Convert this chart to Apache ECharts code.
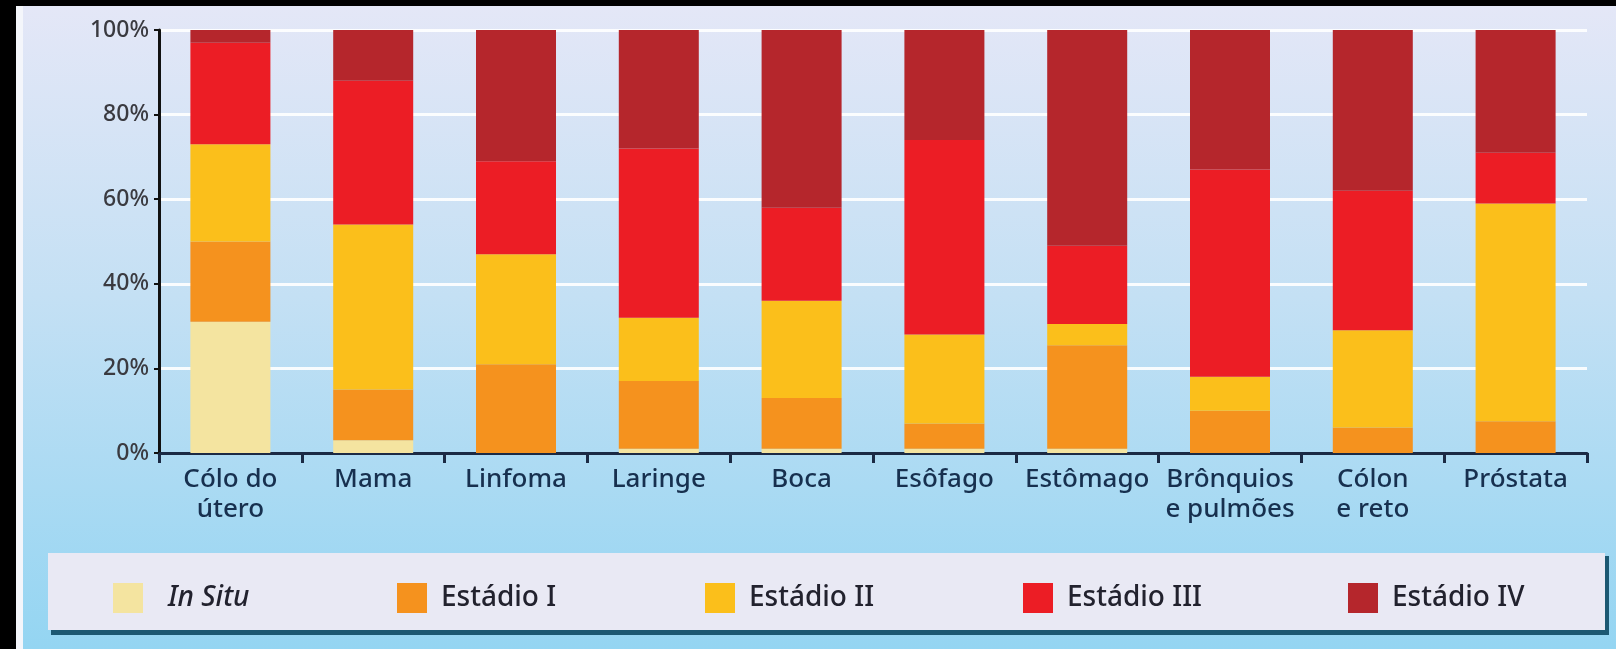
<!DOCTYPE html>
<html lang="pt">
<head>
<meta charset="UTF-8">
<title>Estádio por localização</title>
<script src="https://cdn.jsdelivr.net/npm/echarts@6/dist/echarts.min.js"></script>
<style>
  html, body { margin: 0; padding: 0; background: #000; }
  #chart { width: 1616px; height: 649px; }
</style>
</head>
<body>
<div id="chart"></div>
<script>
// dados (percentual por estádio)
var categories = ['Cólo do\nútero', 'Mama', 'Linfoma', 'Laringe', 'Boca', 'Esôfago', 'Estômago', 'Brônquios\ne pulmões', 'Cólon\ne reto', 'Próstata'];
var stageNames = ['In Situ', 'Estádio I', 'Estádio II', 'Estádio III', 'Estádio IV'];
var inSitu = [31, 3, 0, 1, 1, 1, 1, 0, 0, 0];
var stage1 = [19, 12, 21, 16, 12, 6, 24.5, 10, 6, 7.5];
var stage2 = [23, 39, 26, 15, 23, 21, 5, 8, 23, 51.5];
var stage3 = [24, 34, 22, 40, 22, 46, 18.5, 49, 33, 12];
var stage4 = [3, 12, 31, 28, 42, 26, 51, 33, 38, 29];
var yTicks = [0, 20, 40, 60, 80, 100];

var colors = ['#f4e4a0', '#f5921e', '#fbbf1b', '#ec1d25', '#b5262c'];
var legendLeft = [108, 392, 700, 1018, 1343];

var chart = echarts.init(document.getElementById('chart'));

var values = [inSitu, stage1, stage2, stage3, stage4];
var series = [];
for (var i = 0; i < stageNames.length; i++) {
    series.push({
        name: stageNames[i],
        type: 'bar',
        stack: 'total',
        barWidth: 80,
        itemStyle: { color: colors[i] },
        data: values[i]
    });
}

var legends = [];
for (var k = 0; k < stageNames.length; k++) {
    legends.push({
        data: [stageNames[k]],
        left: legendLeft[k],
        top: 578,
        icon: 'rect',
        itemWidth: 30,
        itemHeight: 30,
        selectedMode: false,
        textStyle: {
            fontFamily: 'Noto Sans',
            fontSize: 28,
            fontWeight: 500,
            fontStyle: k === 0 ? 'italic' : 'normal',
            color: '#22222e',
            padding: [0, 0, 0, k === 0 ? 20 : 9]
        }
    });
}

var option = {
    animation: false,
    graphic: [
        // fundo com bordas pretas
        { type: 'rect', z: -10, shape: { x: 0, y: 0, width: 1616, height: 649 }, style: { fill: '#000' } },
        { type: 'rect', z: -9, shape: { x: 16, y: 6, width: 1600, height: 643 }, style: { fill: '#f4f6fb' } },
        {
            type: 'rect', z: -8, shape: { x: 23, y: 6, width: 1593, height: 643 },
            style: {
                fill: new echarts.graphic.LinearGradient(0, 0, 0, 1, [
                    { offset: 0, color: '#e4e7f7' },
                    { offset: 0.45, color: '#c4e0f4' },
                    { offset: 1, color: '#94d5f2' }
                ])
            }
        },
        // caixa da legenda
        { type: 'rect', z: -7, shape: { x: 51, y: 556, width: 1558, height: 79 }, style: { fill: '#1c5872' } },
        { type: 'rect', z: -6, shape: { x: 48, y: 553, width: 1557, height: 77 }, style: { fill: '#e9e9f4' } }
    ],
    legend: legends,
    grid: {
        left: 159,
        right: 29,
        top: 30,
        bottom: 196,
        outerBoundsMode: 'none'
    },
    xAxis: {
        type: 'category',
        data: categories,
        axisLine: { show: true, lineStyle: { color: '#1b2a44', width: 3 } },
        axisTick: { show: true, length: 10, lineStyle: { color: '#1b2a44', width: 3 } },
        axisLabel: {
            interval: 0,
            margin: 12,
            fontFamily: 'Noto Sans',
            fontSize: 26,
            fontWeight: 500,
            lineHeight: 30,
            color: '#17304f'
        },
        splitLine: { show: false }
    },
    yAxis: {
        type: 'value',
        min: 0,
        max: 100,
        interval: 20,
        axisLine: { show: true, lineStyle: { color: '#111', width: 3 } },
        axisTick: { show: true, length: 5, lineStyle: { color: '#111', width: 2 } },
        axisLabel: {
            margin: 10,
            fontFamily: 'Noto Sans',
            fontSize: 23,
            fontWeight: 500,
            color: '#3a3a40',
            padding: [12, 0, 0, 0],
            formatter: function (v) { return yTicks.indexOf(v) >= 0 ? v + '%' : ''; }
        },
        splitLine: { show: true, lineStyle: { color: 'rgba(255,255,255,0.9)', width: 3 } }
    },
    series: series
};

chart.setOption(option);
</script>
</body>
</html>
